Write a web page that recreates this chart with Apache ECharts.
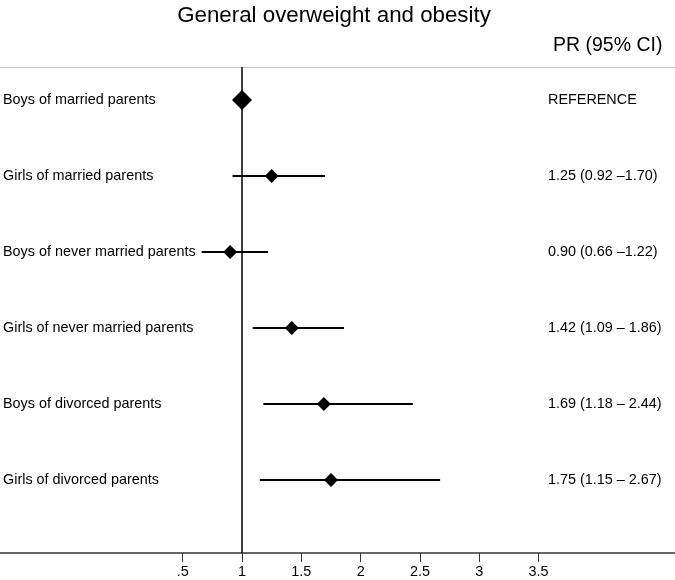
<!DOCTYPE html>
<html><head><meta charset="utf-8">
<script src="https://cdn.jsdelivr.net/npm/echarts@6/dist/echarts.min.js"></script>
<style>html,body{margin:0;padding:0;background:#fff}#c{width:675px;height:580px}</style>
</head><body><div id="c"></div>
<script>
const groups = ["Boys of married parents","Girls of married parents","Boys of never married parents","Girls of never married parents","Boys of divorced parents","Girls of divorced parents"];
const pr = [1.00, 1.25, 0.90, 1.42, 1.69, 1.75];
const ciLow = [null, 0.92, 0.66, 1.09, 1.18, 1.15];
const ciHigh = [null, 1.70, 1.22, 1.86, 2.44, 2.67];
const ciText = ["REFERENCE","1.25 (0.92 \u20131.70)","0.90 (0.66 \u20131.22)","1.42 (1.09 \u2013 1.86)","1.69 (1.18 \u2013 2.44)","1.75 (1.15 \u2013 2.67)"];
const xTicks = [0.5, 1, 1.5, 2, 2.5, 3, 3.5];
const refValue = 1;

const rows = groups.map((g, i) => i + 1);
const FONT = "'Liberation Sans', Arial, Helvetica, sans-serif";
const chart = echarts.init(document.getElementById('c'), null, {renderer: 'canvas'});
const yCommon = {type: 'value', inverse: true, min: 0.565, max: 6.96, splitLine: {show: false}, axisLine: {show: false}, axisTick: {show: false}};
chart.setOption({
  animation: false,
  title: [
    {text: 'General overweight and obesity', left: 329, top: 0, textAlign: 'center', textStyle: {fontFamily: FONT, fontSize: 22.3, fontWeight: 'normal', color: '#000'}},
    {text: 'PR (95% CI)', left: 548, top: 31, textStyle: {fontFamily: FONT, fontSize: 19.5, fontWeight: 'normal', color: '#000'}}
  ],
  grid: {left: 0, right: 0, top: 67, bottom: 27},
  xAxis: [{
    type: 'value', min: -1.04, max: 4.65, position: 'bottom',
    splitLine: {show: false},
    axisLine: {lineStyle: {color: '#333', width: 1.5}},
    axisTick: {customValues: xTicks, length: 9, lineStyle: {color: '#333', width: 1}},
    axisLabel: {customValues: xTicks, margin: 12, fontFamily: FONT, fontSize: 14.4, color: '#000',
      formatter: v => (v === 0.5 ? '.5' : String(v))}
  }, {
    type: 'value', min: -1.04, max: 4.65, position: 'top',
    splitLine: {show: false},
    axisLine: {lineStyle: {color: '#c8c8c8', width: 1}},
    axisTick: {show: false}, axisLabel: {show: false}
  }],
  yAxis: [Object.assign({}, yCommon, {
    position: 'left',
    axisLabel: {customValues: rows, inside: true, align: 'left', margin: 3, fontFamily: FONT, fontSize: 14.4, color: '#000',
      formatter: v => groups[Math.round(v) - 1]}
  }), Object.assign({}, yCommon, {
    position: 'right',
    axisLabel: {customValues: rows, inside: true, align: 'left', margin: 127, fontFamily: FONT, fontSize: 14.4, color: '#000',
      formatter: v => ciText[Math.round(v) - 1]}
  })],
  series: [{
    type: 'custom',
    data: rows.map((r, i) => [r, ciLow[i], ciHigh[i]]).filter(d => d[1] != null),
    renderItem: (params, api) => {
      const a = api.coord([api.value(1), api.value(0)]);
      const b = api.coord([api.value(2), api.value(0)]);
      return {type: 'line', shape: {x1: a[0], y1: a[1], x2: b[0], y2: b[1]}, style: {stroke: '#000', lineWidth: 2}};
    },
    encode: {x: [1, 2], y: 0},
    z: 2
  }, {
    type: 'scatter',
    data: rows.map((r, i) => [pr[i], r]),
    symbol: 'diamond',
    symbolSize: (v, p) => (p.dataIndex === 0 ? 20 : 14),
    itemStyle: {color: '#000', opacity: 1},
    z: 3,
    markLine: {
      silent: true, symbol: 'none', label: {show: false},
      lineStyle: {color: '#000', width: 1.5, type: 'solid', opacity: 1},
      data: [{xAxis: refValue}]
    }
  }]
});
</script></body></html>
